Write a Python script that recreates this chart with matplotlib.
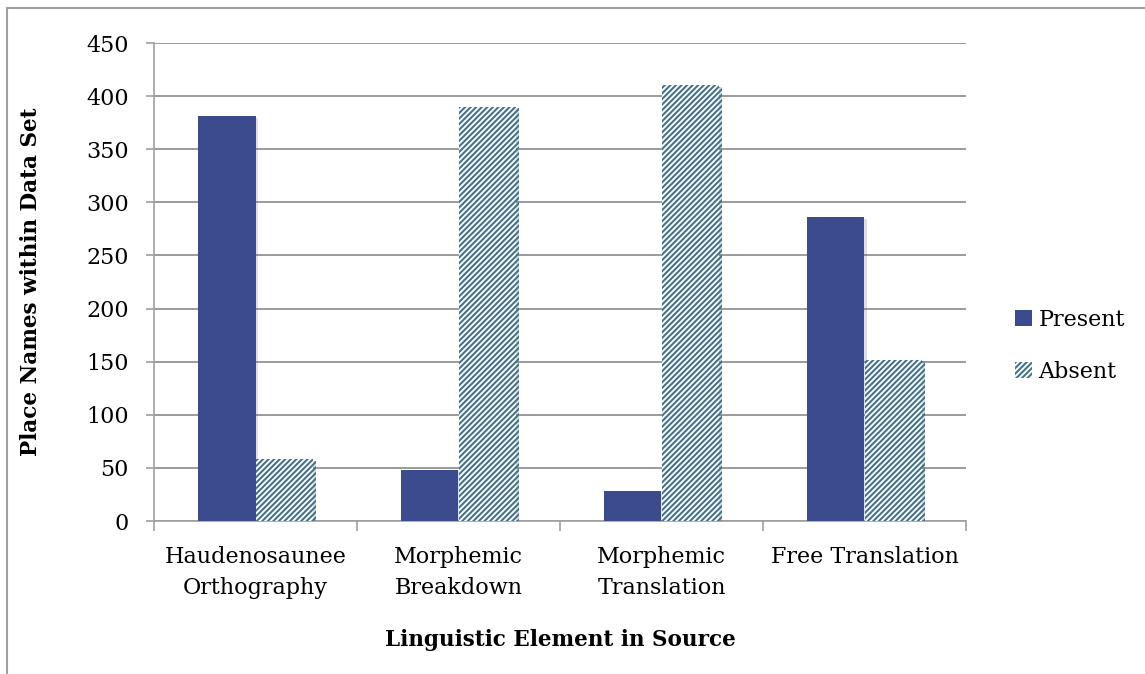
import matplotlib
matplotlib.use("Agg")
import matplotlib.pyplot as plt
import matplotlib.patheffects as pe
from matplotlib.patches import Patch, Rectangle
import numpy as np

categories = ["Haudenosaunee\nOrthography", "Morphemic\nBreakdown",
              "Morphemic\nTranslation", "Free Translation"]
present = [381, 48, 28, 286]
absent = [58, 390, 410, 152]
series_names = ["Present", "Absent"]
y_ticks = [0, 50, 100, 150, 200, 250, 300, 350, 400, 450]

plt.rcParams["font.family"] = ["DejaVu Serif"]
plt.rcParams["hatch.linewidth"] = 1.5

present_color = "#3C4B8E"
hatch_color = "#44738E"
grid_color = "#8A8A8A"
spine_color = "#A0A0A0"
hatch = "//////"

W, H = 1145, 674
L, R, T, B = 154, 966, 43, 521
fig = plt.figure(figsize=(W / 100, H / 100), dpi=100)
ax = fig.add_axes([L / W, 1 - B / H, (R - L) / W, (B - T) / H])

x = np.arange(len(categories))
bw = 0.2857
shadow = [pe.SimplePatchShadow(offset=(1.5, -1.0), alpha=0.18, shadow_rgbFace="#555555"),
          pe.Normal()]

bars_p = ax.bar(x - bw / 2, present, width=bw, color=present_color,
                edgecolor="none", zorder=3)
bars_a = ax.bar(x + bw / 2, absent, width=bw, color="white",
                edgecolor=hatch_color, linewidth=0, hatch=hatch, zorder=3)
for b in list(bars_p) + list(bars_a):
    b.set_path_effects(shadow)

ax.set_xlim(-0.5, len(categories) - 0.5)
ax.set_ylim(0, 450)
ax.set_yticks(y_ticks)
ax.yaxis.grid(True, color=grid_color, linewidth=1.2, zorder=0)
ax.set_axisbelow(True)

# category boundaries carry the tick marks, labels sit at centres
ax.set_xticks(np.arange(len(categories) + 1) - 0.5)
ax.set_xticklabels([])
ax.set_xticks(x, minor=True)
ax.set_xticklabels(categories, minor=True, fontsize=16, linespacing=1.55)
ax.tick_params(axis="x", which="minor", length=0, pad=18)
ax.tick_params(axis="x", which="major", length=7, color=spine_color, width=1.2)
ax.tick_params(axis="y", length=6, color=spine_color, width=1.2, pad=12,
               labelsize=16)

for s in ["top", "right"]:
    ax.spines[s].set_visible(False)
for s in ["left", "bottom"]:
    ax.spines[s].set_color(spine_color)
    ax.spines[s].set_linewidth(1.2)

ax.set_ylabel("Place Names within Data Set", fontsize=15.5, fontweight="bold")
ax.yaxis.set_label_coords((42 - L) / (R - L), 0.5)
ax.set_xlabel("Linguistic Element in Source", fontsize=15.5, fontweight="bold")
ax.xaxis.set_label_coords(0.5, -(629 - B) / (B - T))

handles = [Patch(facecolor=present_color, edgecolor="none"),
           Patch(facecolor="white", edgecolor=hatch_color, linewidth=0, hatch=hatch)]
fig.legend(handles, series_names, loc="center left",
           bbox_to_anchor=(1015 / W, 1 - 346 / H), frameon=False,
           fontsize=16, handlelength=0.75, handleheight=0.75,
           handletextpad=0.3, labelspacing=1.35, borderaxespad=0,
           borderpad=0)

# outer chart frame (continues past the right and bottom edges)
fig.patches.append(Rectangle((7 / W, -0.1), 1.2, 1 - 8 / H + 0.1,
                             transform=fig.transFigure, fill=False,
                             edgecolor="#A0A0A0", linewidth=1.5))

fig.savefig("out.png", dpi=100)
